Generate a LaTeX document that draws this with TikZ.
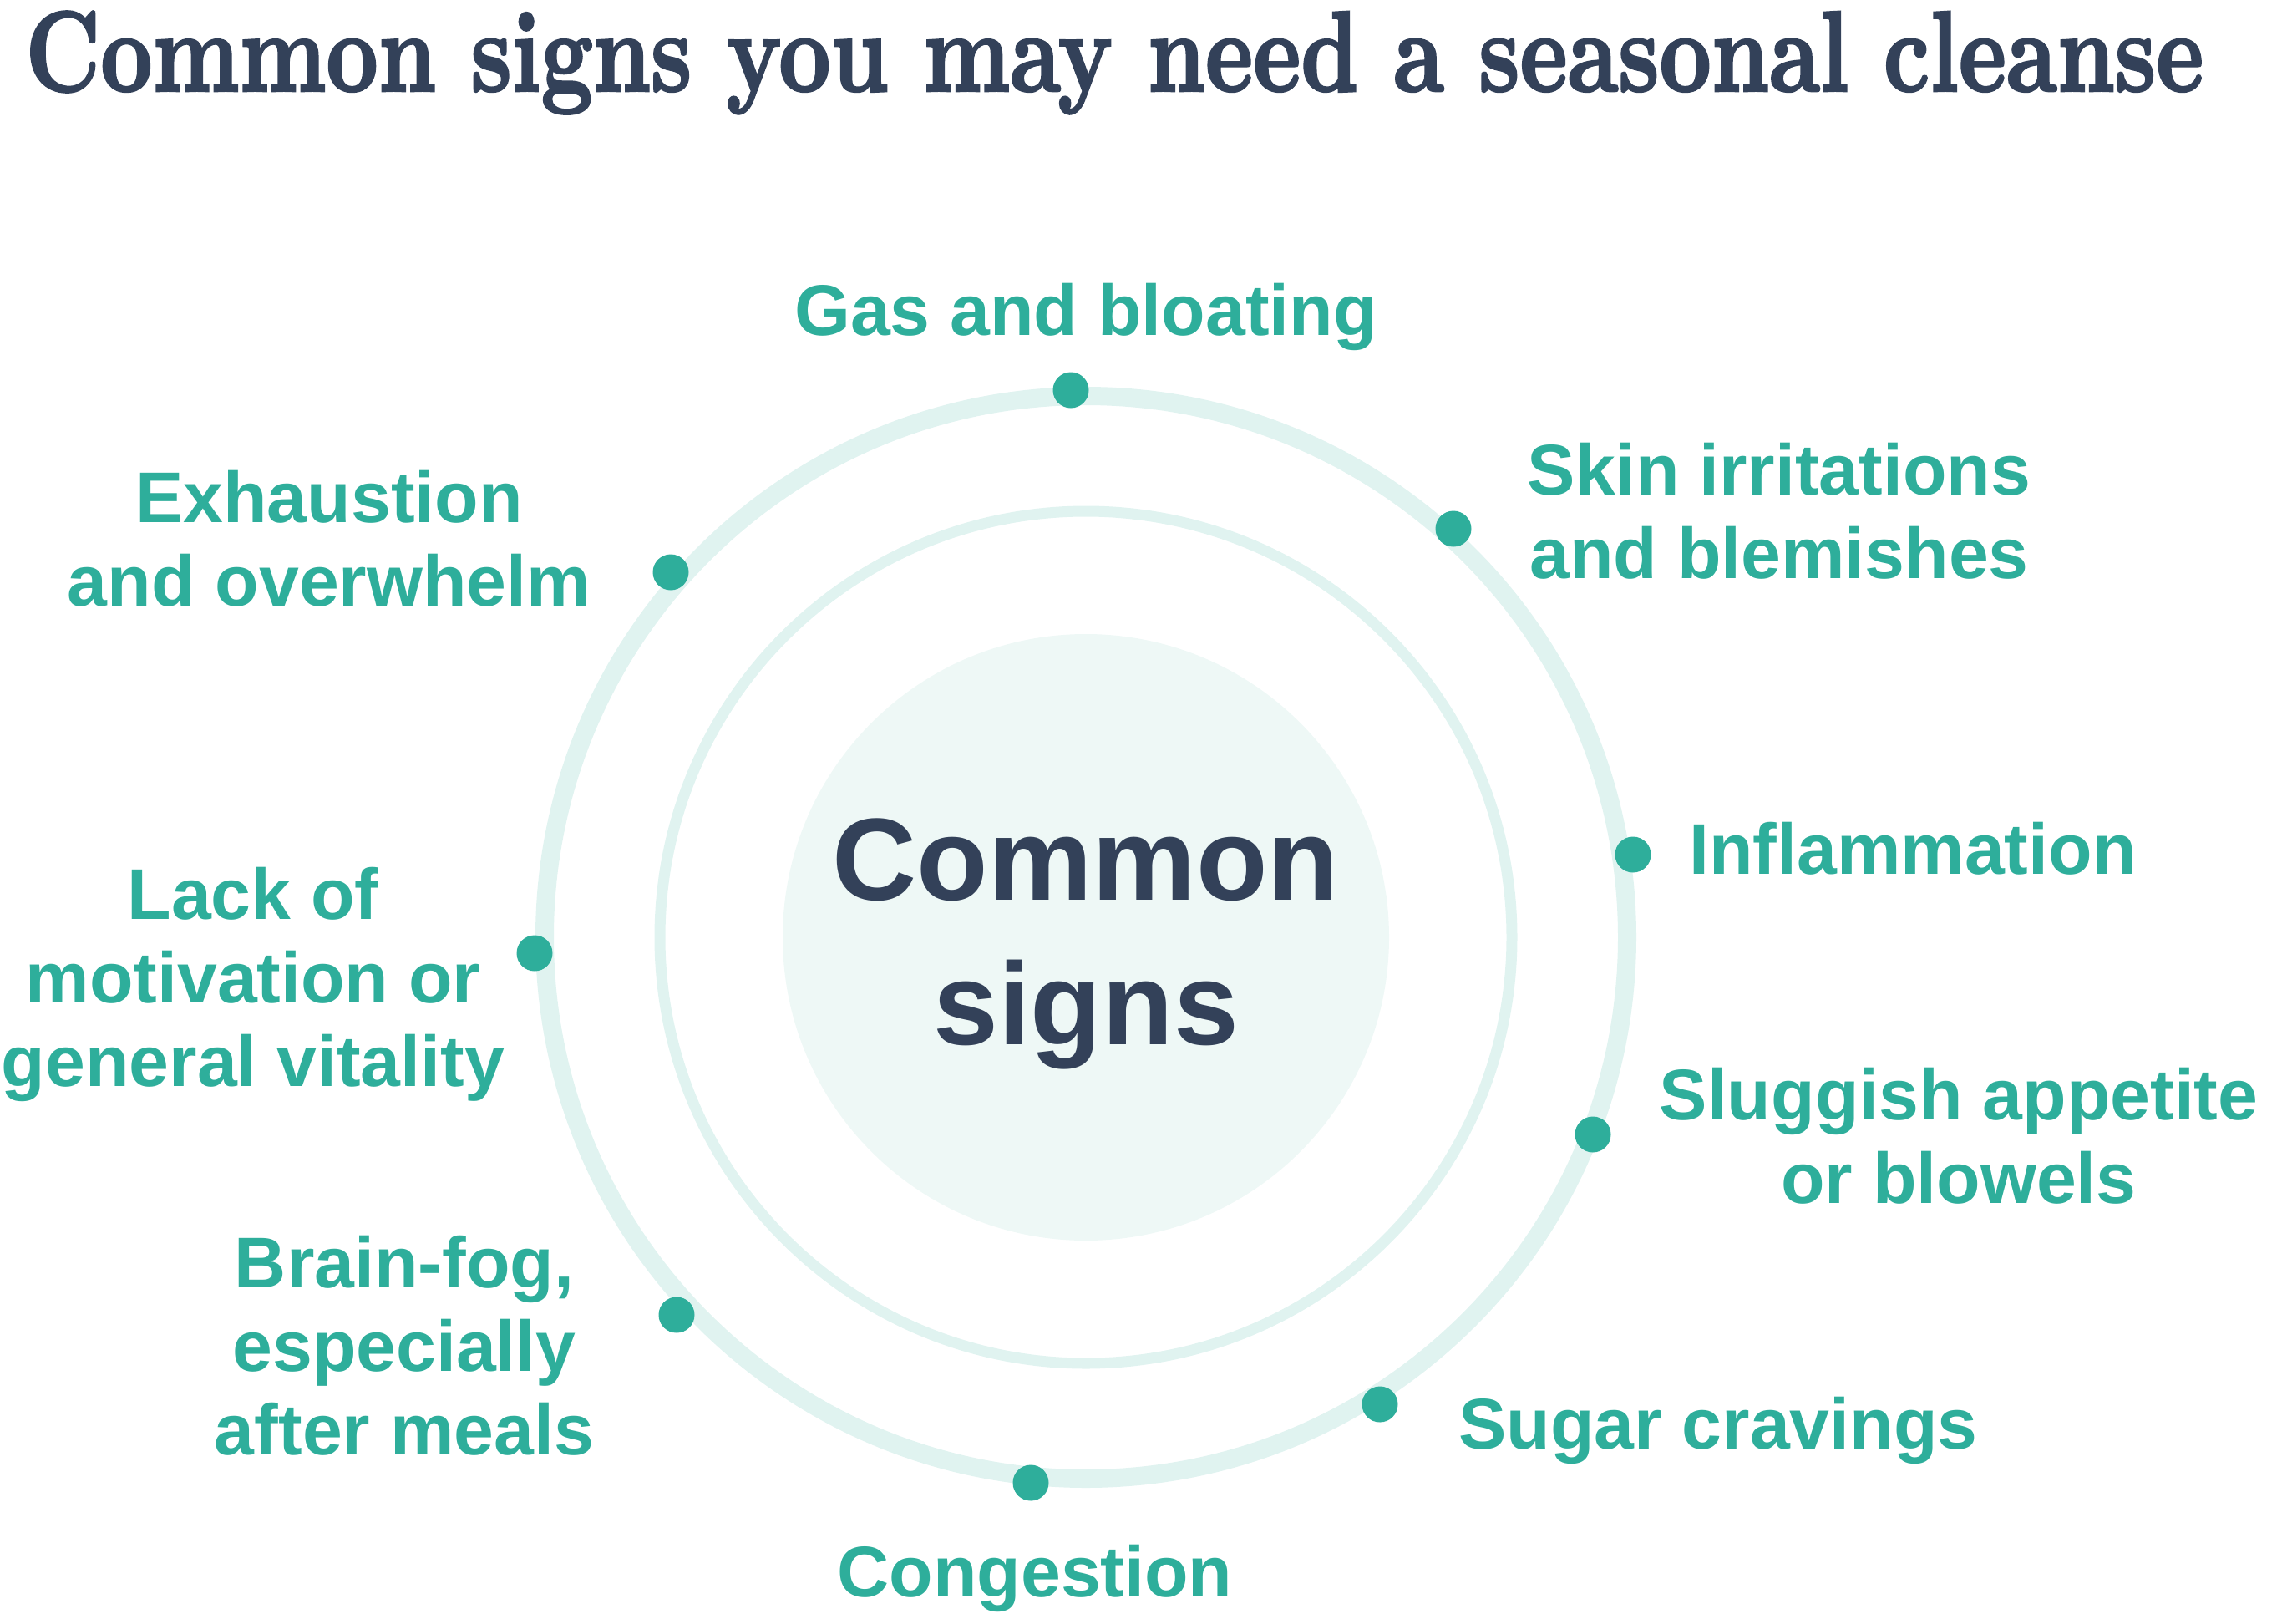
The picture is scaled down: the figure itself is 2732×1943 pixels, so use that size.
\documentclass[tikz,border=0pt]{standalone}
\usepackage{fontspec}
\usepackage{graphicx}
\setmainfont{Latin Modern Roman}
\newfontfamily\labelfont{Liberation Sans}
\newfontfamily\titlefont{lmroman10-bold.otf}[FakeBold=2]
\definecolor{navy}{HTML}{334159}
\definecolor{tealc}{HTML}{2EAE9B}
\definecolor{ringc}{HTML}{E0F3F0}
\definecolor{corec}{HTML}{EEF8F6}
\begin{document}
\begin{tikzpicture}[x=1bp,y=-1bp,
  lbl/.style={font=\labelfont\bfseries\fontsize{86bp}{100bp}\selectfont, text=tealc, inner sep=0, anchor=base},
  dotc/.style={circle, fill=tealc, minimum size=43bp, inner sep=0},
  ring/.style={draw=ringc}]
\useasboundingbox (0,0) rectangle (2732,1943);
% title
\node[anchor=base west, inner sep=0, text=navy] (title) at (30,109)
  {\resizebox{2608bp}{\height}{\titlefont\fontsize{137bp}{150bp}\selectfont Common signs you may need a seasonal cleanse}};
% rings and core
\coordinate (c) at (1300,1122);
\draw[ring, line width=22bp] (c) circle[radius=648];
\draw[ring, line width=13bp] (c) circle[radius=510];
\node[circle, fill=corec, minimum size=726bp, inner sep=0] (core) at (c) {};
\node[anchor=base, inner sep=0, text=navy, font=\labelfont\bfseries\fontsize{140bp}{173bp}\selectfont] (ctext) at (1300,1077)
  {\begin{tabular}[t]{@{}c@{}}Common\\signs\end{tabular}};
% dots
\node[dotc] (d1) at (1282,467) {};
\node[dotc] (d2) at (1740,633) {};
\node[dotc] (d3) at (1955,1023) {};
\node[dotc] (d4) at (1907,1358) {};
\node[dotc] (d5) at (1652,1681) {};
\node[dotc] (d6) at (1234,1775) {};
\node[dotc] (d7) at (810,1574) {};
\node[dotc] (d8) at (640,1141) {};
\node[dotc] (d9) at (803,685) {};
% labels
\node[lbl] (l1) at (1300,401) {Gas and bloating};
\node[lbl] (l2) at (2130,592) {\begin{tabular}[t]{@{}c@{}}Skin irritations\\and blemishes\end{tabular}};
\node[lbl] (l3) at (2290,1046) {Inflammation};
\node[lbl] (l4) at (2345,1340) {\begin{tabular}[t]{@{}c@{}}Sluggish appetite\\or blowels\end{tabular}};
\node[lbl] (l5) at (2057,1734) {Sugar cravings};
\node[lbl] (l6) at (1239,1911) {Congestion};
\node[lbl] (l7) at (484,1541) {\begin{tabular}[t]{@{}c@{}}Brain-fog,\\especially\\after meals\end{tabular}};
\node[lbl] (l8) at (303,1100) {\begin{tabular}[t]{@{}c@{}}Lack of\\motivation or\\general vitality\end{tabular}};
\node[lbl] (l9) at (394,625) {\begin{tabular}[t]{@{}c@{}}Exhaustion\\and overwhelm\end{tabular}};
\end{tikzpicture}
\end{document}
